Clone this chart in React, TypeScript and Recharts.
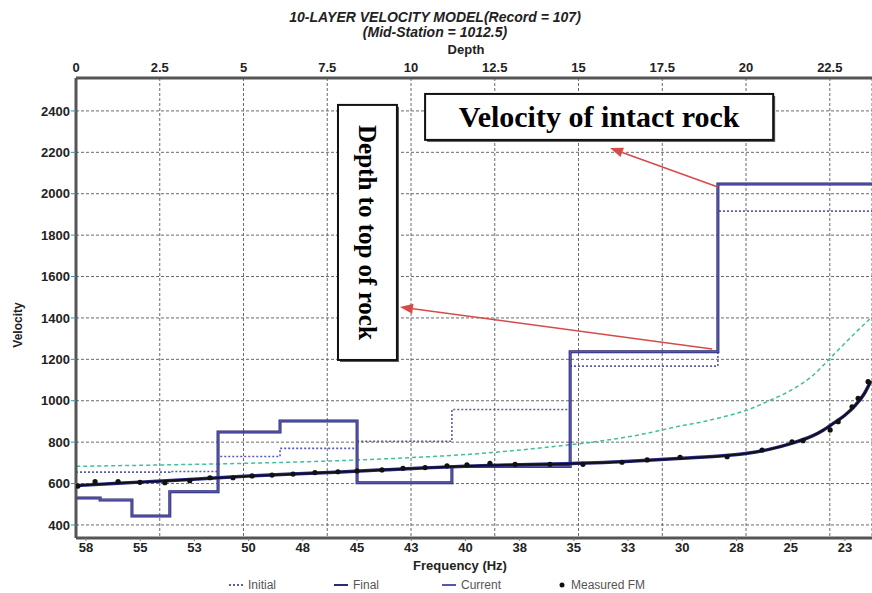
import React from 'react';
import {
  ComposedChart,
  Line,
  Scatter,
  XAxis,
  YAxis,
  CartesianGrid,
  ReferenceArea,
  ReferenceLine,
} from 'recharts';

// ---------- data ----------
const depthTicks = [0, 2.5, 5, 7.5, 10, 12.5, 15, 17.5, 20, 22.5];
const freqTicks = [57.5, 55, 52.5, 50, 47.5, 45, 42.5, 40, 37.5, 35, 32.5, 30, 27.5, 25, 22.5];
const velocityTicks = [400, 600, 800, 1000, 1200, 1400, 1600, 1800, 2000, 2200, 2400];

const depthDomain = [0, 23.76];
const freqDomain = [21.25, 57.96];
const velocityDomain = [337, 2559];

// layer top depths (last = right edge of plot)
const layerTops = [0, 0.72, 1.67, 2.8, 4.24, 6.09, 8.39, 11.22, 14.75, 19.16, 23.76];
const initialVel = [655, 655, 655, 658, 731, 770, 804, 958, 1167, 1916];
const finalVel = [530, 521, 443, 561, 849, 902, 604, 682, 1237, 2047];
const currentVel = [530, 521, 443, 561, 849, 902, 604, 682, 1237, 2047];

// dispersion (vs frequency)
const measuredFreq = [57.87, 57.08, 56.02, 55.01, 53.86, 52.71, 51.78, 50.72, 49.84, 48.92, 47.95, 46.94, 45.88, 45.0, 43.85, 42.88, 41.86, 40.85, 39.93, 38.87, 37.71, 36.1, 34.58, 32.78, 31.62, 30.1, 27.93, 26.32, 24.94, 24.43, 23.18, 22.81, 22.17, 21.89, 21.43];
const measuredVel = [588, 609, 609, 606, 604, 614, 628, 628, 637, 641, 646, 653, 657, 661, 666, 674, 677, 685, 690, 698, 693, 693, 693, 703, 714, 727, 730, 762, 802, 807, 859, 899, 971, 1012, 1092];

const fitFreq = [57.95, 56, 54, 52, 50, 48, 46, 44, 42, 40, 38, 36, 34, 32, 30, 28, 27, 26, 25, 24, 23.5, 23, 22.5, 22, 21.6, 21.3];
const fitVel = [590, 602, 612, 624, 636, 646, 655, 665, 675, 684, 690, 694, 700, 710, 722, 735, 746, 765, 793, 830, 858, 893, 930, 980, 1035, 1095];

const initFitFreq = [57.95, 54, 50, 46, 42, 40, 38, 36, 34, 32, 30, 29, 28, 27, 26, 25, 24, 23, 22, 21.3];
const initFitVel = [683, 690, 698, 710, 728, 740, 757, 778, 802, 835, 880, 900, 925, 955, 1000, 1050, 1120, 1225, 1330, 1400];

// annotations (data coordinates: depth, velocity)
const boxes = [
  { text: 'Velocity of intact rock', d1: 10.42, d2: 20.81, v1: 2260, v2: 2482, vertical: false, size: 30 },
  { text: 'Depth to top of rock', d1: 7.82, d2: 9.58, v1: 1197, v2: 2429, vertical: true, size: 25 },
];
const arrows = [
  { from: { d: 19.16, v: 2033 }, to: { d: 15.94, v: 2221 } },
  { from: { d: 18.99, v: 1250 }, to: { d: 9.67, v: 1453 } },
];

const legendItems = [
  { label: 'Initial', kind: 'dotted', color: '#5a5ab4', x: 228 },
  { label: 'Final', kind: 'solid', color: '#2a2a78', x: 333 },
  { label: 'Current', kind: 'solid', color: '#5656b0', x: 441 },
  { label: 'Measured FM', kind: 'dot', color: '#111', x: 557 },
];

// ---------- derived tables ----------
const steps = (vals: number[]) => {
  const out = vals.map((v, i) => ({ d: layerTops[i], v }));
  out.push({ d: layerTops[layerTops.length - 1], v: vals[vals.length - 1] });
  return out;
};
const initialData = steps(initialVel);
const finalData = steps(finalVel);
const currentData = steps(currentVel);
const measuredData = measuredFreq.map((f, i) => ({ f, v: measuredVel[i] }));
const fitData = fitFreq.map((f, i) => ({ f, v: fitVel[i] }));
const initFitData = initFitFreq.map((f, i) => ({ f, v: initFitVel[i] }));

const tickStyle = { fontFamily: 'Liberation Sans, Arial, sans-serif', fontSize: 13, fontWeight: 700, fill: '#222' };

const ArrowShape = (props: any) => {
  const { x1, y1, x2, y2 } = props;
  const ang = Math.atan2(y2 - y1, x2 - x1);
  const len = 13;
  const w = 5;
  const bx = x2 - len * Math.cos(ang);
  const by = y2 - len * Math.sin(ang);
  const px = -Math.sin(ang) * w;
  const py = Math.cos(ang) * w;
  return (
    <g>
      <line x1={x1} y1={y1} x2={bx} y2={by} stroke="#d64a4a" strokeWidth={1.6} />
      <polygon points={`${x2},${y2} ${bx + px},${by + py} ${bx - px},${by - py}`} fill="#d64a4a" />
    </g>
  );
};

const makeBox = (text: string, vertical: boolean, size: number) => (props: any) => {
  const { x, y, width, height } = props;
  const cx = x + width / 2;
  const cy = y + height / 2;
  return (
    <g>
      <rect x={x + 2} y={y + 2} width={width} height={height} fill="#555" />
      <rect x={x} y={y} width={width} height={height} fill="#fff" stroke="#111" strokeWidth={2} />
      <text
        x={cx}
        y={cy}
        textAnchor="middle"
        dominantBaseline="central"
        fontFamily="Liberation Serif, Times New Roman, serif"
        fontWeight="bold"
        fontSize={size}
        fill="#000"
        transform={vertical ? `rotate(90 ${cx} ${cy})` : undefined}
      >
        {text}
      </text>
    </g>
  );
};

const Dot = (props: any) => {
  const { cx, cy } = props;
  return <circle cx={cx} cy={cy} r={2.6} fill="#111" />;
};

const sans = 'Liberation Sans, Arial, sans-serif';

export default function App() {
  return (
    <div style={{ position: 'absolute', left: 0, top: 0, width: 872, height: 593, background: '#fff', overflow: 'hidden' }}>
      <ComposedChart width={872} height={593} margin={{ top: 48, right: 0, bottom: 25, left: 0 }}>
        <CartesianGrid xAxisId="depth" stroke="#6a6a6a" strokeDasharray="3 2" />
        <XAxis
          xAxisId="depth"
          dataKey="d"
          type="number"
          orientation="top"
          domain={depthDomain}
          ticks={depthTicks}
          allowDataOverflow
          height={30}
          tickLine={false}
          tickMargin={0}
          axisLine={{ stroke: '#555', strokeWidth: 3 }}
          tick={tickStyle}
        />
        <XAxis
          xAxisId="freq"
          dataKey="f"
          type="number"
          orientation="bottom"
          reversed
          domain={freqDomain}
          ticks={freqTicks}
          allowDataOverflow
          height={30}
          tickSize={3}
          tickMargin={2}
          tickLine={{ stroke: '#777' }}
          tickFormatter={(v: number) => String(Math.round(v))}
          axisLine={{ stroke: '#555', strokeWidth: 3 }}
          tick={tickStyle}
        />
        <YAxis
          dataKey="v"
          type="number"
          domain={velocityDomain}
          ticks={velocityTicks}
          allowDataOverflow
          width={76}
          tickSize={5}
          tickMargin={1}
          tickLine={{ stroke: '#3a8fb0' }}
          axisLine={{ stroke: '#555', strokeWidth: 3 }}
          tick={tickStyle}
        />
        <Line
          xAxisId="freq"
          data={initFitData}
          dataKey="v"
          type="monotone"
          stroke="#3fbf9f"
          strokeWidth={1.5}
          strokeDasharray="4 3"
          dot={false}
          isAnimationActive={false}
          legendType="none"
        />
        <Line
          xAxisId="depth"
          data={initialData}
          dataKey="v"
          type="stepAfter"
          stroke="#5a5ab4"
          strokeWidth={1.6}
          strokeDasharray="2 2"
          dot={false}
          isAnimationActive={false}
        />
        <Line
          xAxisId="depth"
          data={finalData}
          dataKey="v"
          type="stepAfter"
          stroke="#24246e"
          strokeWidth={3}
          dot={false}
          isAnimationActive={false}
        />
        <Line
          xAxisId="depth"
          data={currentData}
          dataKey="v"
          type="stepAfter"
          stroke="#5656b0"
          strokeWidth={1.6}
          dot={false}
          isAnimationActive={false}
        />
        <Line
          xAxisId="freq"
          data={fitData}
          dataKey="v"
          type="monotone"
          stroke="#2a2a8a"
          strokeWidth={3.5}
          dot={false}
          isAnimationActive={false}
          legendType="none"
        />
        <Line
          xAxisId="freq"
          data={fitData}
          dataKey="v"
          type="monotone"
          stroke="#111"
          strokeWidth={1.8}
          dot={false}
          isAnimationActive={false}
          legendType="none"
        />
        <Scatter xAxisId="freq" data={measuredData} dataKey="v" shape={Dot} isAnimationActive={false} />
        {boxes.map((b, i) => (
          <ReferenceArea
            key={'box' + i}
            xAxisId="depth"
            x1={b.d1}
            x2={b.d2}
            y1={b.v1}
            y2={b.v2}
            shape={makeBox(b.text, b.vertical, b.size)}
          />
        ))}
        {arrows.map((a, i) => (
          <ReferenceLine
            key={'arr' + i}
            xAxisId="depth"
            segment={[
              { x: a.from.d, y: a.from.v },
              { x: a.to.d, y: a.to.v },
            ]}
            shape={ArrowShape}
          />
        ))}
      </ComposedChart>

      {/* titles and axis names */}
      <div style={{ position: 'absolute', left: 0, width: 872, top: 10, textAlign: 'center', fontFamily: sans, fontStyle: 'italic', fontWeight: 700, fontSize: 14, color: '#222', lineHeight: '15px' }}>
        <div style={{ marginLeft: -2 }}>10-LAYER VELOCITY MODEL(Record = 107)</div>
        <div style={{ marginLeft: -2 }}>(Mid-Station = 1012.5)</div>
      </div>
      <div style={{ position: 'absolute', left: 416, width: 100, top: 42, textAlign: 'center', fontFamily: sans, fontWeight: 700, fontSize: 13, color: '#222' }}>Depth</div>
      <div style={{ position: 'absolute', left: 360, width: 200, top: 558, textAlign: 'center', fontFamily: sans, fontWeight: 700, fontSize: 13, color: '#222' }}>Frequency (Hz)</div>
      <div style={{ position: 'absolute', left: -32, width: 100, top: 318, textAlign: 'center', fontFamily: sans, fontWeight: 700, fontSize: 12, color: '#222', transform: 'rotate(-90deg)' }}>Velocity</div>

      {/* legend */}
      {legendItems.map((it) => (
        <div key={it.label} style={{ position: 'absolute', left: it.x, top: 578, height: 14, display: 'flex', alignItems: 'center', fontFamily: sans, fontSize: 12, color: '#555' }}>
          {it.kind === 'dot' ? (
            <svg width={10} height={10}><circle cx={5} cy={5} r={2.5} fill={it.color} /></svg>
          ) : (
            <svg width={16} height={10}>
              <line x1={1} y1={5} x2={15} y2={5} stroke={it.color} strokeWidth={2} strokeDasharray={it.kind === 'dotted' ? '2 2' : undefined} />
            </svg>
          )}
          <span style={{ marginLeft: 4 }}>{it.label}</span>
        </div>
      ))}
    </div>
  );
}
